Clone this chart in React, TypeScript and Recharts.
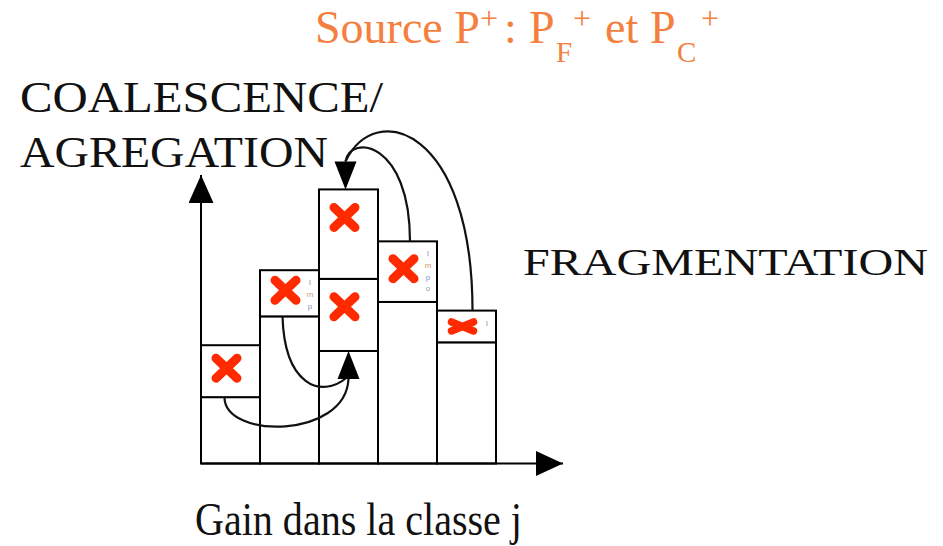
import { ComposedChart, Bar, XAxis, YAxis } from 'recharts'

// classes along the x axis (the middle one is the class j)
const classes = ['1', '2', 'j', '4', '5']
// stacked heights: base column, boxed cell, extra boxed cell
const baseHeights = [2.3, 5.1, 3.9, 5.6, 4.2]
const boxHeights = [1.8, 1.6, 2.5, 2.1, 1.1]
const topHeights = [0, 0, 3.1, 0, 0]
// tiny letters printed down the right edge of some cells
const sideLetters = ['', 'lmp', '', 'lmpo', 'l']
const yTicks = [0, 10]

const data = classes.map((c, i) => ({
  classe: c,
  base: baseHeights[i],
  box: boxHeights[i],
  top: topHeights[i],
  letters: sideLetters[i],
}))

const SERIF = '"Liberation Serif", "Times New Roman", serif'
const letterColors = ['#8c8c8c', '#d49a6c', '#7f94bf', '#9a9ab8']

function Cross({ cx, cy, small }: { cx: number; cy: number; small: boolean }) {
  const rx = small ? 11 : 10.5
  const ry = small ? 4.5 : 10
  return (
    <g stroke="#ff2a00" strokeWidth={small ? 7.5 : 9} strokeLinecap="round">
      <line x1={cx - rx} y1={cy - ry} x2={cx + rx} y2={cy + ry} />
      <line x1={cx - rx} y1={cy + ry} x2={cx + rx} y2={cy - ry} />
    </g>
  )
}

const PlainShape = (props: any) => {
  const { x, y, width, height } = props
  if (!height || height <= 0) return <g />
  return <rect x={x} y={y} width={width} height={height} fill="#fff" stroke="#000" strokeWidth={2} />
}

// a cell with a red cross in it
const cellContent = (x: number, y: number, width: number, height: number) => {
  const small = height < 40
  const cy = y + (small ? height / 2 : Math.min(height / 2 - 3, 28))
  return (
    <>
      <rect x={x} y={y} width={width} height={height} fill="#fff" stroke="#000" strokeWidth={2} />
      <Cross cx={x + width / 2 - 4} cy={cy} small={small} />
    </>
  )
}

const BoxShape = (props: any) => {
  const { x, y, width, height, payload } = props
  if (!height || height <= 0) return <g />
  const letters: string = payload.letters || ''
  return (
    <g>
      {cellContent(x, y, width, height)}
      {letters.split('').map((ch, k) => (
        <text
          key={k}
          x={x + width - 9}
          y={y + 15 + k * 11.7}
          fontSize={8}
          textAnchor="middle"
          fill={letterColors[k % letterColors.length]}
          fontFamily='"Liberation Sans", sans-serif'
        >
          {ch}
        </text>
      ))}
    </g>
  )
}

// top cell of class j, plus the coalescence / fragmentation arrows pointing to it
const TopShape = (props: any) => {
  const { x, y, width, height, payload, index } = props
  if (!height || height <= 0 || !payload.top) return <g />
  const ppu = height / payload.top
  const baseline = y + height + (payload.base + payload.box) * ppu
  const cx = (j: number) => x + (j - index + 0.5) * width
  const baseTop = (j: number) => baseline - baseHeights[j] * ppu
  const stackTop = (j: number) => baseline - (baseHeights[j] + boxHeights[j] + topHeights[j]) * ppu

  const upTipX = cx(index)
  const upTipY = baseTop(index)
  const downTipX = cx(index) - 3
  const downTipY = stackTop(index)

  const curveStyle = { fill: 'none', stroke: '#111', strokeWidth: 2.2 }
  const a0x = cx(0) - 6
  const a0y = baseTop(0)
  const b0x = cx(1) - 7
  const b0y = baseTop(1)
  const c0x = cx(3) + 2.5
  const c0y = stackTop(3)
  const d0x = cx(4) + 6
  const d0y = stackTop(4)

  return (
    <g>
      {cellContent(x, y, width, height)}
      {/* coalescence: from the cells of the smaller classes */}
      <path
        d={`M${a0x},${a0y} C${a0x},${a0y + 42} ${upTipX - 3},${upTipY + 88} ${upTipX},${upTipY + 28}`}
        {...curveStyle}
      />
      <path
        d={`M${b0x},${b0y} C${b0x + 2},${b0y + 68} ${upTipX - 28},${upTipY + 49} ${upTipX - 1},${upTipY + 26}`}
        {...curveStyle}
      />
      <path d={`M${upTipX},${upTipY} L${upTipX + 11},${upTipY + 28} L${upTipX - 11},${upTipY + 28} Z`} fill="#000" />
      {/* fragmentation: from the cells of the bigger classes */}
      <path
        d={`M${c0x},${c0y} C${c0x},${c0y - 100} ${downTipX + 5},${downTipY - 56} ${downTipX},${downTipY - 28}`}
        {...curveStyle}
      />
      <path
        d={`M${d0x},${d0y} C${d0x},${downTipY - 61} ${downTipX + 30},${downTipY - 91} ${downTipX},${downTipY - 28}`}
        {...curveStyle}
      />
      <path d={`M${downTipX},${downTipY} L${downTipX + 11},${downTipY - 28} L${downTipX - 11},${downTipY - 28} Z`} fill="#000" />
    </g>
  )
}

export default function App() {
  return (
    <div style={{ position: 'absolute', left: 0, top: 0, width: 943, height: 546, background: '#fff' }}>
      <ComposedChart
        width={943}
        height={546}
        data={data}
        margin={{ top: 175, right: 380, bottom: 52.5, left: 141 }}
        barCategoryGap={0}
      >
        <defs>
          <marker
            id="arrowX"
            markerUnits="userSpaceOnUse"
            markerWidth={27}
            markerHeight={25}
            viewBox="0 0 27 25"
            refX={27}
            refY={12.5}
            orient="auto"
          >
            <path d="M0,0 L27,12.5 L0,25 Z" fill="#000" />
          </marker>
          <marker
            id="arrowY"
            markerUnits="userSpaceOnUse"
            markerWidth={28}
            markerHeight={25}
            viewBox="0 0 28 25"
            refX={28}
            refY={12.5}
            orient="auto-start-reverse"
          >
            <path d="M0,0 L28,12.5 L0,25 Z" fill="#000" />
          </marker>
        </defs>

        <XAxis
          dataKey="classe"
          height={30}
          tick={false}
          tickLine={false}
          padding={{ left: 0, right: 67 }}
          axisLine={{ stroke: '#000', strokeWidth: 2, markerEnd: 'url(#arrowX)' } as any}
        />
        <YAxis
          type="number"
          domain={[0, 10]}
          ticks={yTicks}
          width={60}
          tick={false}
          tickLine={false}
          axisLine={{ stroke: '#000', strokeWidth: 2, markerStart: 'url(#arrowY)' } as any}
        />

        <Bar dataKey="base" stackId="s" shape={PlainShape} isAnimationActive={false} />
        <Bar dataKey="box" stackId="s" shape={BoxShape} isAnimationActive={false} />
        <Bar dataKey="top" stackId="s" shape={TopShape} isAnimationActive={false} />

        {/* title */}
        <text fontFamily={SERIF} fill="#f47f3e" fontSize={46}>
          <tspan x={315} y={43}>Source P</tspan>
          <tspan x={480} y={29} fontSize={32}>+</tspan>
          <tspan x={504} y={43}>:</tspan>
          <tspan x={529} y={43}>P</tspan>
          <tspan x={556} y={62} fontSize={29}>F</tspan>
          <tspan x={573} y={29} fontSize={32}>+</tspan>
          <tspan x={605} y={43}>et</tspan>
          <tspan x={650} y={43}>P</tspan>
          <tspan x={677} y={62} fontSize={29}>C</tspan>
          <tspan x={701} y={29} fontSize={32}>+</tspan>
        </text>

        <text x={20} y={112} fontFamily={SERIF} fontSize={44} fill="#111" textLength={363} lengthAdjust="spacingAndGlyphs">
          COALESCENCE/
        </text>
        <text x={20} y={167} fontFamily={SERIF} fontSize={44} fill="#111" textLength={308} lengthAdjust="spacingAndGlyphs">
          AGREGATION
        </text>
        <text x={523} y={275} fontFamily={SERIF} fontSize={38} fill="#111" textLength={405} lengthAdjust="spacingAndGlyphs">
          FRAGMENTATION
        </text>
        <text x={340} y={437} fontFamily={SERIF} fontSize={46} fill="#111">
          j
        </text>
        <text x={195} y={535} fontFamily={SERIF} fontSize={46} fill="#111" textLength={327} lengthAdjust="spacingAndGlyphs">
          Gain dans la classe j
        </text>
      </ComposedChart>
    </div>
  )
}
